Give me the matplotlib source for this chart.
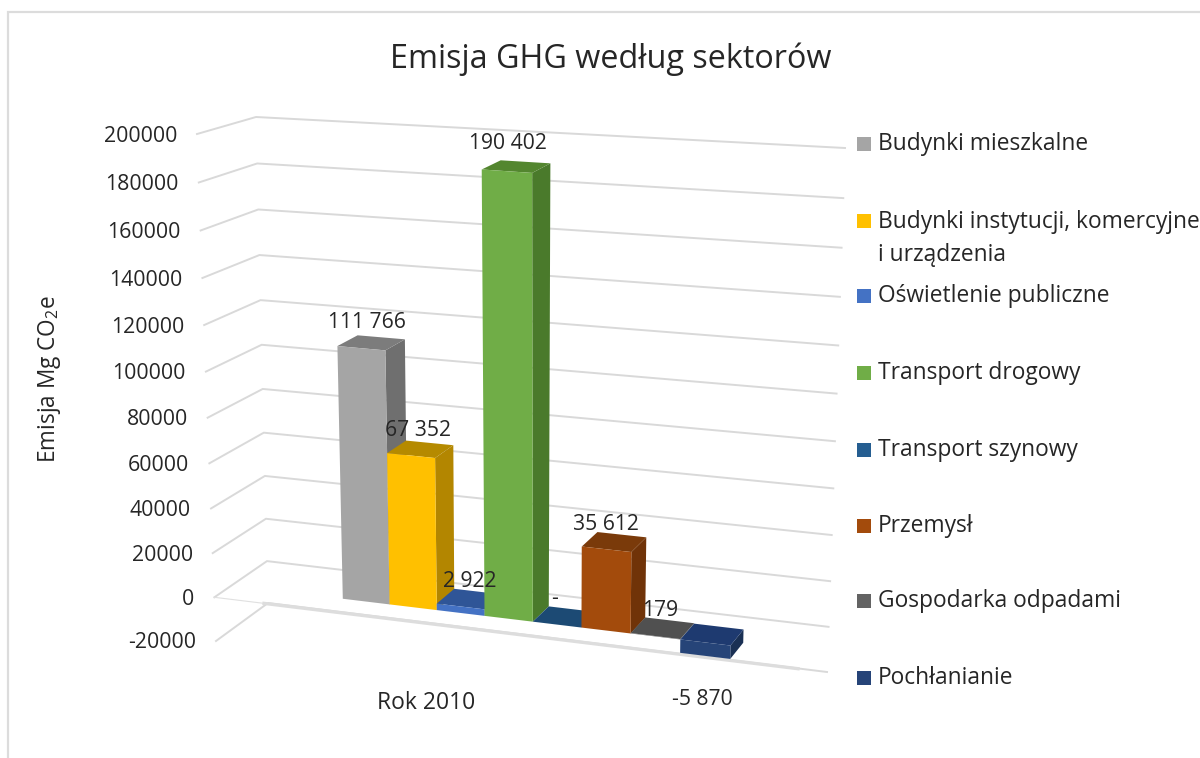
import matplotlib.pyplot as plt
from matplotlib.patches import Polygon, Rectangle

plt.rcParams["font.family"] = ["Open Sans", "DejaVu Sans"]
plt.rcParams["mathtext.default"] = "regular"

# Data
sectors = [
    "Budynki mieszkalne",
    "Budynki instytucji, komercyjne\ni urządzenia",
    "Oświetlenie publiczne",
    "Transport drogowy",
    "Transport szynowy",
    "Przemysł",
    "Gospodarka odpadami",
    "Pochłanianie",
]
values = [111766, 67352, 2922, 190402, 0, 35612, 179, -5870]
value_labels = ["111 766", "67 352", "2 922", "190 402", "-", "35 612", "179", "-5 870"]
ticks = [200000, 180000, 160000, 140000, 120000, 100000, 80000, 60000, 40000, 20000, 0, -20000]
category = "Rok 2010"

front_colors = ["#A5A5A5", "#FFC000", "#4472C4", "#70AD47", "#255E91", "#A34B0C", "#636363", "#264478"]
side_colors = ["#6F6F6F", "#B38600", "#2F5597", "#4A7A2B", "#1A4268", "#703308", "#454545", "#1A3054"]
top_colors = ["#7C7C7C", "#B58A00", "#2F5597", "#53862F", "#1C4A74", "#7A3A0A", "#505050", "#1E3A70"]

# Pixel corners of the 3D box: (u, w) -> top and bottom
corners = {
    (0, 1): ((256, 117), (268, 603)),
    (1, 1): ((845, 148), (827, 672)),
    (0, 0): ((197, 134), (216, 641)),
    (1, 0): ((809, 178), (797, 715)),
}
v_min, v_max = -20000, 200000
bar_u0, bar_u1 = 0.2024, 0.872
bar_w0, bar_w1 = 0.33, 0.72


def project(u, v, w):
    t = (v - v_min) / (v_max - v_min)
    s = t - 0.057 * t * (1 - t)
    u = u - 0.06 * u * (1 - u)
    x, y = 0, 0
    for (cu, cw), (top, bottom) in corners.items():
        k = (u if cu else 1 - u) * (w if cw else 1 - w)
        x += k * (bottom[0] + s * (top[0] - bottom[0]))
        y += k * (bottom[1] + s * (top[1] - bottom[1]))
    return x, y


fig = plt.figure(figsize=(12, 7.58), dpi=100)
ax = fig.add_axes([0, 0, 1, 1])
ax.set_xlim(0, 1200)
ax.set_ylim(758, 0)
ax.axis("off")

# chart frame
ax.plot([8, 8, 1200], [758, 12, 12], color="#DCDCDC", lw=1.6, solid_joinstyle="miter")

# walls
grid = {"color": "#D9D9D9", "lw": 1.4, "zorder": 1}
for tick in ticks:
    ax.plot(*zip(project(0, tick, 0), project(0, tick, 1), project(1, tick, 1)), **grid)
    x, y = project(0, tick, 0)
    ax.text(x - 20, y + 2, str(tick), ha="right", va="center", fontsize=15.3, color="#262626")

# floor edge at zero
ax.plot(*zip(project(0, 0, 0), project(0.09, 0, 0)), color="#E0E0E0", lw=0.8, zorder=1)
ax.plot(*zip(project(0.09, 0, 0), project(1, 0, 0)), color="#DDDDDD", lw=2.4, zorder=1)

# bars, left to right
step = (bar_u1 - bar_u0) / len(values)
for i, value in enumerate(values):
    u0 = bar_u0 + i * step
    u1 = u0 + step
    low, high = min(value, 0), max(value, 0)
    front = [project(u0, low, bar_w0), project(u1, low, bar_w0), project(u1, high, bar_w0), project(u0, high, bar_w0)]
    side = [project(u1, low, bar_w0), project(u1, low, bar_w1), project(u1, high, bar_w1), project(u1, high, bar_w0)]
    top = [project(u0, high, bar_w0), project(u1, high, bar_w0), project(u1, high, bar_w1), project(u0, high, bar_w1)]
    ax.add_patch(Polygon(side, facecolor=side_colors[i], edgecolor="none", zorder=2 + i))
    ax.add_patch(Polygon(top, facecolor=top_colors[i], edgecolor="none", zorder=2 + i))
    ax.add_patch(Polygon(front, facecolor=front_colors[i], edgecolor="none", zorder=2 + i))

# value labels
label_offsets = [(-4, -20), (-2, -19), (1, -18), (-8, -23), (-10, -18), (-8, -17), (-2, -18), (-10, 65)]
for i, (value, label) in enumerate(zip(values, value_labels)):
    x, y = project(bar_u0 + (i + 0.5) * step, max(value, 0), (bar_w0 + bar_w1) / 2)
    dx, dy = label_offsets[i]
    ax.text(x + dx, y + dy, label, ha="center", va="center", fontsize=15.2, color="#262626", zorder=20)

ax.text(426, 703, category, ha="center", va="center", fontsize=16.5, color="#262626")
ax.text(50, 379, "Emisja Mg CO$_2$e", rotation=90, ha="center", va="center", fontsize=16.3, color="#262626")
ax.text(611, 59, "Emisja GHG według sektorów", ha="center", va="center", fontsize=23.3, color="#262626")

# legend
legend_y = [143, 220, 295, 372, 449, 525, 600, 677]
for name, color, y in zip(sectors, front_colors, legend_y):
    ax.add_patch(Rectangle((857, y - 6), 14, 14, facecolor=color, edgecolor="none"))
    ax.text(878, y - 10 if "\n" in name else y + 1, name, ha="left", va="top" if "\n" in name else "center",
            fontsize=16.4, color="#262626", linespacing=1.5, clip_on=False)

fig.savefig("out.png", dpi=100)
